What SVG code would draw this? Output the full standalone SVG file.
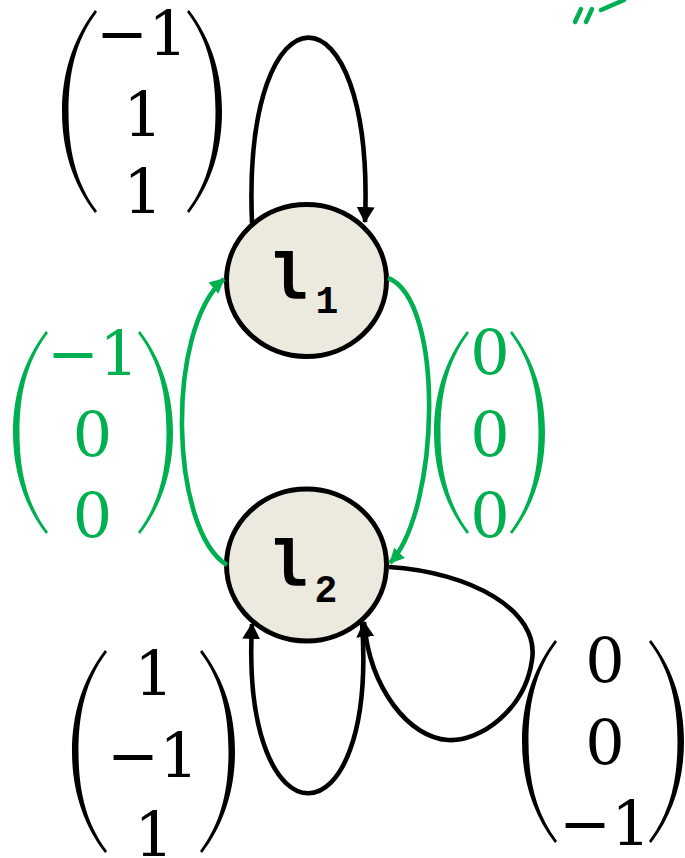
<svg xmlns="http://www.w3.org/2000/svg" xmlns:xlink="http://www.w3.org/1999/xlink" width="685" height="858" viewBox="0 0 685 858">
  <style>
    .node { fill: #ECEADF; stroke: #000; stroke-width: 5; }
    .lbl { font-family: "DejaVu Sans Mono", "Liberation Mono", monospace; font-weight: bold; fill: #000; }
    .big { font-size: 62px; }
    .sub { font-size: 38px; font-family: "Liberation Mono", monospace; }
    .edge { fill: none; stroke: #000; stroke-width: 4.6; }
    .edge.g { stroke: #00B050; }
    .vec { font-family: "DejaVu Serif", "Liberation Serif", serif; font-size: 62px; text-anchor: middle; }
    .blk { fill: #000; }
    .grn { fill: #00B050; }
  </style>
  <defs>
    <marker id="ahB" markerUnits="userSpaceOnUse" viewBox="0 0 16 18" markerWidth="16" markerHeight="18" refX="15" refY="9" orient="auto">
      <path d="M0,0 L16,9 L0,18 z" fill="#000"/>
    </marker>
    <marker id="ahG" markerUnits="userSpaceOnUse" viewBox="0 0 15 15" markerWidth="15" markerHeight="15" refX="14" refY="7.5" orient="auto">
      <path d="M0,0 L15,7.5 L0,15 z" fill="#00B050"/>
    </marker>
    <!-- tall left parenthesis, 37 wide x 203 high; mirrored for the right one -->
    <path id="lp" d="M35,0 C12,30 2,65 2,101.5 C2,138 12,173 35,203 L37,201 C15,172 8.5,138 8.5,101.5 C8.5,65 15,31 37,2 Z"/>
  </defs>

  <!-- locations -->
  <g id="node-l1">
    <ellipse class="node" cx="306.5" cy="280.5" rx="80" ry="76"/>
    <text class="lbl big" x="291" y="298" text-anchor="middle">l</text>
    <text class="lbl sub" x="327" y="313" text-anchor="middle">1</text>
  </g>
  <g id="node-l2">
    <ellipse class="node" cx="306.5" cy="565" rx="80" ry="76"/>
    <text class="lbl big" x="291" y="585" text-anchor="middle">l</text>
    <text class="lbl sub" x="326" y="602" text-anchor="middle">2</text>
  </g>

  <!-- transitions -->
  <g id="connectors">
    <path class="edge" d="M252,223 C242,-24 375,-24 365,222" marker-end="url(#ahB)"/>
    <path class="edge g" d="M227,565 C170,530 165,330 224,279" marker-end="url(#ahG)"/>
    <path class="edge g" d="M388,278 C445,300 440,510 390,563" marker-end="url(#ahG)"/>
    <path class="edge" d="M362,622 C378,850 240,850 252,624" marker-end="url(#ahB)"/>
    <path class="edge" d="M389,567 C470,572 540,610 532,660 C525,710 480,742 448,740 C410,738 370,690 364,622" marker-end="url(#ahB)"/>
  </g>

  <!-- weight vectors -->
  <g id="vec-loop-l1" class="blk">
    <use xlink:href="#lp" transform="translate(60,10)"/>
    <use xlink:href="#lp" transform="translate(224,10) scale(-1,1)"/>
    <text class="vec" x="142" y="55">−1</text>
    <text class="vec" x="143" y="136">1</text>
    <text class="vec" x="143" y="213">1</text>
  </g>
  <g id="vec-l2-l1" class="grn">
    <use xlink:href="#lp" transform="translate(11,331)"/>
    <use xlink:href="#lp" transform="translate(175,331) scale(-1,1)"/>
    <text class="vec" x="93" y="375">−1</text>
    <text class="vec" x="92.5" y="456">0</text>
    <text class="vec" x="92.5" y="537">0</text>
  </g>
  <g id="vec-l1-l2" class="grn">
    <use xlink:href="#lp" transform="translate(432,331)"/>
    <use xlink:href="#lp" transform="translate(547,331) scale(-1,1)"/>
    <text class="vec" x="490" y="374">0</text>
    <text class="vec" x="490" y="456">0</text>
    <text class="vec" x="490" y="537">0</text>
  </g>
  <g id="vec-loop-l2-a" class="blk">
    <use xlink:href="#lp" transform="translate(70,650)"/>
    <use xlink:href="#lp" transform="translate(237,650) scale(-1,1)"/>
    <text class="vec" x="154" y="695">1</text>
    <text class="vec" x="153" y="777">−1</text>
    <text class="vec" x="154" y="856">1</text>
  </g>
  <g id="vec-loop-l2-b" class="blk">
    <use xlink:href="#lp" transform="translate(520,640)"/>
    <use xlink:href="#lp" transform="translate(686,640) scale(-1,1)"/>
    <text class="vec" x="605" y="682">0</text>
    <text class="vec" x="605" y="764">0</text>
    <text class="vec" x="605" y="845">−1</text>
  </g>

  <!-- green strokes at the upper right edge -->
  <g id="edge-mark" stroke="#00B050" stroke-width="4.5" stroke-linecap="round" fill="none">
    <line x1="581" y1="9" x2="575" y2="22"/>
    <line x1="592" y1="9" x2="586" y2="22"/>
    <line x1="601" y1="10" x2="624" y2="0"/>
  </g>
</svg>
